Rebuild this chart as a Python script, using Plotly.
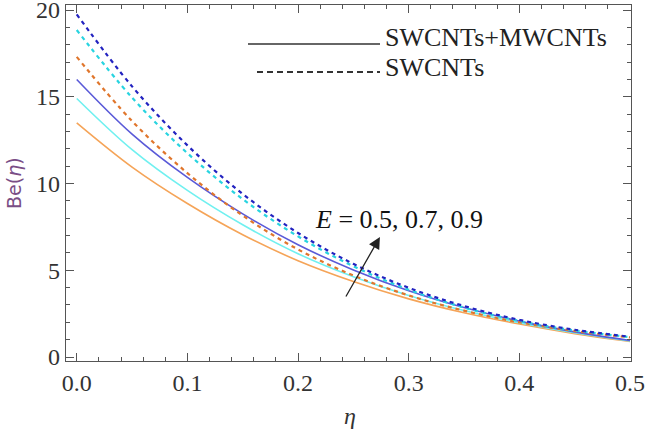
import plotly.graph_objects as go

eta = [0.0, 0.05, 0.1, 0.15, 0.2, 0.25, 0.3, 0.35, 0.4, 0.45, 0.5]

# SWCNTs (dashed), E = 0.5, 0.7, 0.9
swcnt_E05 = [17.3, 13.6, 10.6, 8.15, 6.2, 4.7, 3.55, 2.67, 2.0, 1.5, 1.13]
swcnt_E07 = [18.85, 14.95, 11.75, 9.1, 6.95, 5.23, 3.88, 2.85, 2.08, 1.53, 1.15]
swcnt_E09 = [19.75, 15.6, 12.2, 9.4, 7.15, 5.37, 3.99, 2.94, 2.14, 1.57, 1.17]

# SWCNTs+MWCNTs (solid), E = 0.5, 0.7, 0.9
hyb_E05 = [13.5, 10.95, 8.85, 7.05, 5.55, 4.35, 3.35, 2.55, 1.9, 1.35, 0.9]
hyb_E07 = [14.9, 11.95, 9.6, 7.62, 5.95, 4.63, 3.55, 2.68, 1.98, 1.4, 0.92]
hyb_E09 = [16.0, 12.85, 10.35, 8.25, 6.47, 5.02, 3.82, 2.85, 2.07, 1.45, 0.95]

legend_labels = ["SWCNTs+MWCNTs", "SWCNTs"]
arrow_label = "<i>E</i> = 0.5, 0.7, 0.9"

SERIF = "Liberation Serif, Times New Roman, serif"

fig = go.Figure()

solid_cols = ["#f5a458", "#70f0f0", "#5a5ad8"]
dash_cols = ["#e0762c", "#28d4e0", "#2323c0"]

for ys, c in zip([hyb_E05, hyb_E07, hyb_E09], solid_cols):
    fig.add_trace(go.Scatter(x=eta, y=ys, mode="lines",
                             line=dict(color=c, width=1.6, shape="spline", smoothing=1.0),
                             showlegend=False))
for ys, c in zip([swcnt_E05, swcnt_E07, swcnt_E09], dash_cols):
    fig.add_trace(go.Scatter(x=eta, y=ys, mode="lines",
                             line=dict(color=c, width=2.2, dash="4px,4px", shape="spline", smoothing=1.0),
                             showlegend=False))

axis_common = dict(
    showline=True, linecolor="#555555", linewidth=1.2, mirror="allticks",
    ticks="inside", ticklen=8, tickcolor="#555555", tickwidth=1,
    showgrid=False, zeroline=False, automargin=False, ticklabeloverflow="allow",
    tickfont=dict(family=SERIF, size=24, color="#333333"),
)

fig.update_xaxes(range=[-0.0097, 0.5009], tickvals=[0, 0.1, 0.2, 0.3, 0.4, 0.5],
                 ticktext=["0.0", "0.1", "0.2", "0.3", "0.4", "0.5"],
                 minor=dict(dtick=0.02, ticklen=4, tickcolor="#555555", ticks="inside"),
                 **axis_common)
fig.update_yaxes(range=[-0.23, 20.29], tickvals=[0, 5, 10, 15, 20],
                 minor=dict(dtick=1, ticklen=4, tickcolor="#555555", ticks="inside"),
                 **axis_common)

# legend drawn manually
fig.add_shape(type="line", xref="paper", yref="paper", x0=(248-66)/565, x1=(380-66)/565,
              y0=(361-44)/356, y1=(361-44)/356, line=dict(color="#333333", width=1.5))
fig.add_shape(type="line", xref="paper", yref="paper", x0=(257-66)/565, x1=(380-66)/565,
              y0=(361-72)/356, y1=(361-72)/356, line=dict(color="#333333", width=2, dash="6px,4px"))
fig.add_annotation(xref="paper", yref="paper", x=(383-66)/565, y=(361-37)/356,
                   text=legend_labels[0], showarrow=False, xanchor="left", yanchor="middle",
                   font=dict(family=SERIF, size=26, color="#222222"))
fig.add_annotation(xref="paper", yref="paper", x=(383-66)/565, y=(361-67)/356,
                   text=legend_labels[1], showarrow=False, xanchor="left", yanchor="middle",
                   font=dict(family=SERIF, size=26, color="#222222"))

# E annotation and arrow
fig.add_annotation(xref="paper", yref="paper", x=(313-66)/565, y=(361-219)/356,
                   text=arrow_label, showarrow=False, xanchor="left", yanchor="middle",
                   font=dict(family=SERIF, size=26, color="#111111"))
fig.add_annotation(x=0.274, y=6.92, ax=0.2425, ay=3.4, axref="x", ayref="y", xref="x", yref="y",
                   text="", showarrow=True, arrowhead=2, arrowsize=1.8, arrowwidth=1.3,
                   arrowcolor="#222222")

# axis titles
fig.add_annotation(xref="paper", yref="paper", x=(350-66)/565, y=(361-416)/356,
                   text="<i>η</i>", showarrow=False, xanchor="center", yanchor="middle",
                   font=dict(family=SERIF, size=24, color="#333333"))
fig.add_annotation(xref="paper", yref="paper", x=(14-66)/565, y=(361-183)/356,
                   text="Be(<i>η</i>)", showarrow=False, textangle=-90, xanchor="center", yanchor="middle",
                   font=dict(family="DejaVu Sans", size=19, color="#7a4e86"))

fig.update_layout(width=645, height=432, margin=dict(l=66, r=14, t=5, b=71),
                  plot_bgcolor="white", paper_bgcolor="white", showlegend=False)

fig.write_html("out.html", config={"displayModeBar": False},
               post_script="document.body.style.margin='0';document.body.style.overflow='hidden';")
